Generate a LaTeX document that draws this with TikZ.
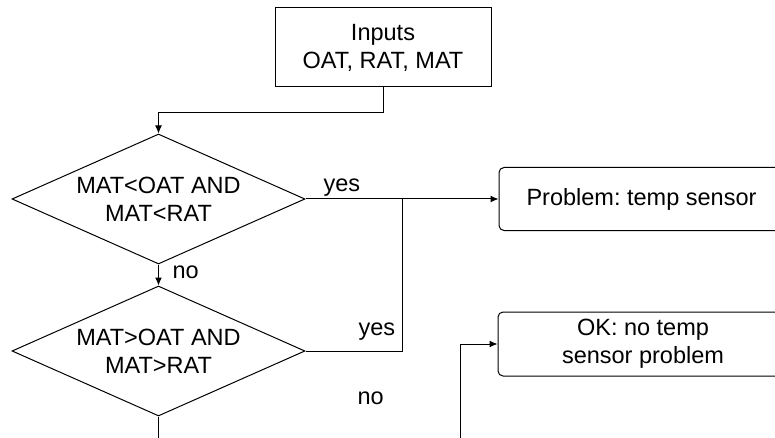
\documentclass[tikz,border=0pt]{standalone}
\usepackage{fontspec}
\setmainfont{Liberation Sans}
\usetikzlibrary{shapes.geometric,arrows.meta}
\frenchspacing
\begin{document}
\begin{tikzpicture}[x=1pt,y=-1pt,line width=1pt,
  every node/.style={font=\fontsize{23.5}{28}\selectfont},
  arr/.style={-{Latex[length=8pt,width=7pt]}},
  inbox/.style={draw,inner sep=0pt,align=center},
  decision/.style={diamond,draw,aspect=2.25,inner sep=0pt,
    minimum width=293pt,minimum height=130pt,align=center},
  result/.style={draw,rounded corners=5pt,inner sep=0pt,align=center},
  lbl/.style={anchor=base west,inner sep=0pt}]
\useasboundingbox (0,0) rectangle (775,438);
\clip (0,0) rectangle (775,438);

% blocks
\node[inbox,minimum width=216pt,minimum height=79pt] (in) at (383,47.5) {Inputs\\OAT, RAT, MAT};
\node[decision] (d1) at (158.5,199) {MAT<OAT AND\\MAT<RAT};
\node[decision] (d2) at (158.5,351) {MAT>OAT AND\\MAT>RAT};
\node[result,minimum width=285pt,minimum height=63pt] (p) at (641.5,199) {Problem: temp sensor};
\node[result,minimum width=290pt,minimum height=64pt] (ok) at (643,344) {OK: no temp\\sensor problem};

% free ends and junction
\coordinate (m) at (402,199);
\coordinate (d2out) at (158.5,450);
\coordinate (okin) at (460,450);

% connectors
\draw[arr] (in.south) -- ++(0,25) -| (d1.north);
\draw[arr] (d1.south) -- (d2.north);
\draw[arr] (d1.east) -- (p.west);
\draw (d2.east) -| (m);
\draw (d2.south) -- (d2out);
\draw[arr] (okin) |- (ok.west);

% branch labels
\node[lbl] (no1) at (172,278) {no};
\node[lbl] (yes1) at (323,192) {yes};
\node[lbl] (yes2) at (358,335) {yes};
\node[lbl] (no2) at (357,404) {no};
\end{tikzpicture}
\end{document}
